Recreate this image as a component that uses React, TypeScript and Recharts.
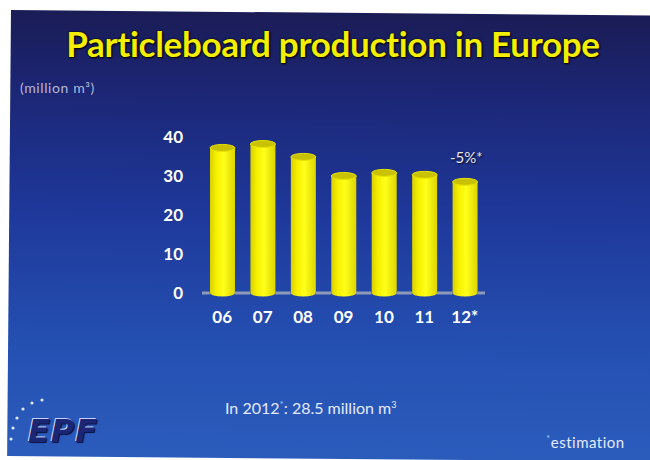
import { BarChart, Bar, XAxis, YAxis } from 'recharts';

const years = ['06', '07', '08', '09', '10', '11', '12*'];
const production = [37.2, 38.2, 34.9, 30.0, 30.8, 30.3, 28.5];
const yTicks = [0, 10, 20, 30, 40];
const changeLabel = '-5%*';
const titleText = 'Particleboard production in Europe';
const unitText = '(million m³)';
const footnote = 'estimation';

const data = years.map((year, i) => ({ year, value: production[i] }));

const FONT = 'Lato, "Open Sans", sans-serif';

// floor line only shows in the gaps between cylinders
const band = 283 / years.length;
const barW = 25;
const gap = band - barW;

function Cylinder(props: any) {
  const { x, y, width, height } = props;
  if (height == null || width == null) return null;
  const rx = width / 2;
  const ry = 3.5;
  const cx = x + rx;
  const bottom = y + height;
  return (
    <g>
      <path
        d={`M${x},${y} L${x},${bottom} A${rx},${ry} 0 0 0 ${x + width},${bottom} L${x + width},${y} Z`}
        fill="url(#cylBody)"
      />
      <ellipse cx={cx} cy={y} rx={rx} ry={ry} fill="#c9c200" stroke="#e8e200" strokeWidth={1} />
    </g>
  );
}

export default function App() {
  return (
    <div
      style={{
        position: 'absolute',
        left: 0,
        top: 0,
        width: 650,
        height: 460,
        background: '#ffffff',
        overflow: 'hidden',
        fontFamily: FONT,
      }}
    >
      {/* slide background, scanned slightly skewed */}
      <div
        style={{
          position: 'absolute',
          left: 11,
          top: 10,
          width: 645,
          height: 446,
          transform: 'rotate(0.5deg)',
          transformOrigin: 'top left',
          background:
            'linear-gradient(180deg, #1a1c55 0%, #1c2675 18%, #1e389a 45%, #2450b2 75%, #2b5cbc 100%)',
        }}
      />

      <div
        style={{
          position: 'absolute',
          left: 0,
          width: 650,
          top: 22,
          textAlign: 'center',
          paddingLeft: 16,
          boxSizing: 'border-box',
          fontSize: 35,
          fontWeight: 700,
          color: '#f4ee00',
          textShadow: '1px 1px 2px #000, 0 0 2px #000',
          letterSpacing: -0.3,
        }}
      >
        {titleText}
      </div>

      <div
        style={{
          position: 'absolute',
          left: 20,
          top: 79,
          fontSize: 14,
          letterSpacing: 0.6,
          color: '#b4b8d6',
        }}
      >
        {unitText}
      </div>

      <BarChart
        width={650}
        height={460}
        data={data}
        margin={{ top: 137, right: 165, bottom: 137, left: 162 }}
        style={{ position: 'absolute', left: 0, top: 0 }}
      >
        <defs>
          <linearGradient id="cylBody" x1="0" y1="0" x2="1" y2="0">
            <stop offset="0%" stopColor="#d8d000" />
            <stop offset="25%" stopColor="#f6f000" />
            <stop offset="55%" stopColor="#ffff1a" />
            <stop offset="100%" stopColor="#dcd400" />
          </linearGradient>
        </defs>
        <XAxis
          dataKey="year"
          height={30}
          tickLine={false}
          tickSize={0}
          tickMargin={18}
          axisLine={{
            stroke: '#8c9ab8',
            strokeWidth: 3,
            strokeDasharray: `${gap} ${barW}`,
            strokeDashoffset: gap / 2,
          }}
          tick={{ fill: '#ffffff', fontSize: 17, fontWeight: 700, fontFamily: FONT }}
          interval={0}
        />
        <YAxis
          width={40}
          domain={[0, 40]}
          ticks={yTicks}
          tickLine={false}
          axisLine={false}
          tickSize={0}
          tickMargin={19}
          tick={{ fill: '#ffffff', fontSize: 17, fontWeight: 700, fontFamily: FONT }}
        />
        <Bar dataKey="value" barSize={barW} shape={<Cylinder />} isAnimationActive={false} />
      </BarChart>

      <div
        style={{
          position: 'absolute',
          left: 450,
          top: 148,
          fontSize: 15,
          color: '#e8e8f4',
          textShadow: '1px 1px 2px #000',
        }}
      >
        {changeLabel}
      </div>

      <div
        style={{
          position: 'absolute',
          left: 225,
          top: 398,
          fontSize: 16,
          color: '#e6eaff',
        }}
      >
        In 2012<sup style={{ color: '#9cc4ff', fontSize: 10 }}>*</sup>: 28.5 million m
        <sup style={{ fontSize: 9 }}>3</sup>
      </div>

      <div
        style={{
          position: 'absolute',
          left: 546,
          top: 432,
          fontSize: 15,
          letterSpacing: 0.5,
          color: '#e6eaff',
        }}
      >
        <sup style={{ color: '#9cc4ff', fontSize: 10 }}>*</sup>
        {footnote}
      </div>

      <svg width={60} height={60} style={{ position: 'absolute', left: 0, top: 395 }}>
        {[
          [42, 5],
          [32, 8],
          [23, 14],
          [17, 23],
          [13, 33],
          [11, 44],
        ].map(([cx, cy], i) => (
          <circle key={i} cx={cx} cy={cy} r={1.6} fill="#dfe6ff" />
        ))}
      </svg>
      <div
        style={{
          position: 'absolute',
          left: 28,
          top: 412,
          fontSize: 32,
          fontWeight: 900,
          fontStyle: 'italic',
          color: '#1b2675',
          letterSpacing: 1,
          textShadow: '-1px -1px 0 #c8d4ff, 1px 1px 1px #0a1040',
          fontFamily: '"DejaVu Sans", sans-serif',
        }}
      >
        EPF
      </div>
    </div>
  );
}
